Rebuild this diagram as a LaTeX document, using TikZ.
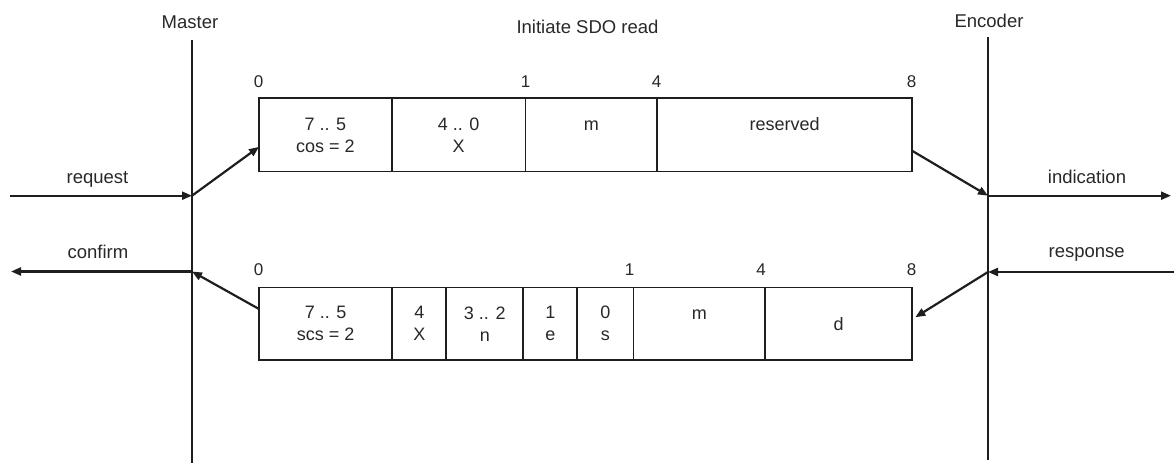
\documentclass[tikz,border=0pt]{standalone}
\usepackage{fontspec}
\setmainfont{Liberation Sans}
\usetikzlibrary{arrows.meta}
\definecolor{ink}{RGB}{30,30,30}
\definecolor{txt}{RGB}{40,40,40}
\begin{document}
\begin{tikzpicture}[x=1pt,y=-1pt,
  cell/.style={draw=ink, line width=1.8pt, rectangle, inner sep=0pt, outer sep=0pt,
    anchor=north west, align=center, text=txt, font=\fontsize{18}{22}\selectfont},
  lifeline/.style={draw=ink, line width=2.3pt},
  msg/.style={draw=ink, line width=2.2pt, -{Triangle[length=10pt,width=8pt]}},
  lbl/.style={anchor=base, text=txt, font=\fontsize{18.5}{22}\selectfont, inner sep=0pt},
  idx/.style={anchor=base, text=txt, font=\fontsize{17}{20}\selectfont, inner sep=0pt}]
\useasboundingbox (0,0) rectangle (1176,465);

% lifelines
\coordinate (mTop) at (192,40);
\coordinate (mBot) at (192,463);
\coordinate (eTop) at (988,37);
\coordinate (eBot) at (988,460);
\draw[lifeline] (mTop) -- (mBot);
\draw[lifeline] (eTop) -- (eBot);

% header texts
\node[lbl] (master) at (190,28.3) {Master};
\node[lbl] (encoder) at (989,27.5) {Encoder};
\node[lbl] (title) at (587.5,33.5) {Initiate SDO read};

% top frame
\node[cell, minimum width=132.7pt, minimum height=73.2pt] (tA) at (259,98.3) {7 .. 5\\cos = 2};
\node[cell, minimum width=133.8pt, minimum height=73.2pt] (tB) at (391.7,98.3) {4 .. 0\\X};
\node[cell, minimum width=131.5pt, minimum height=73.2pt] (tC) at (525.5,98.3) {\vphantom{0}m\\~};
\node[cell, minimum width=255.3pt, minimum height=73.2pt] (tD) at (657,98.3) {reserved\\~};

\node[idx] (t0) at (258.5,88) {0};
\node[idx] (t1) at (525.5,88) {1};
\node[idx] (t4) at (656.5,88) {4};
\node[idx] (t8) at (911.5,88) {8};

% bottom frame
\node[cell, minimum width=133.3pt, minimum height=72.5pt] (bA) at (259,287.5) {7 .. 5\\scs = 2};
\node[cell, minimum width=54pt, minimum height=72.5pt] (bB) at (392.3,287.5) {4\\X};
\node[cell, minimum width=77pt, minimum height=72.5pt] (bC) at (446.3,287.5) {3 .. 2\\n};
\node[cell, minimum width=54pt, minimum height=72.5pt] (bD) at (523.3,287.5) {1\\e};
\node[cell, minimum width=56.2pt, minimum height=72.5pt] (bE) at (577.3,287.5) {0\\s};
\node[cell, minimum width=131.5pt, minimum height=72.5pt] (bF) at (633.5,287.5) {\vphantom{0}m\\~};
\node[cell, minimum width=147.3pt, minimum height=72.5pt] (bG) at (765,287.5) {d};

\node[idx] (b0) at (258.5,275.5) {0};
\node[idx] (b1) at (629.5,275.5) {1};
\node[idx] (b4) at (761,275.5) {4};
\node[idx] (b8) at (911.5,275.5) {8};

% message points
\coordinate (mReq) at (192,195.7);
\coordinate (mConf) at (192,271.5);
\coordinate (eInd) at (988,195.7);
\coordinate (eResp) at (988,272);
\coordinate (reqL) at (10,195.7);
\coordinate (confL) at (11,271.5);
\coordinate (indR) at (1171,195.7);
\coordinate (respR) at (1174,272);

% messages
\draw[msg] (reqL) -- (mReq);
\draw[msg] (mReq) -- ([yshift=-12pt]tA.west);
\draw[msg] ([yshift=-16pt]tD.east) -- (eInd);
\draw[msg] (eInd) -- (indR);
\draw[msg] (respR) -- (eResp);
\draw[msg] (eResp) -- ([xshift=3pt,yshift=6.5pt]bG.east);
\draw[msg] ([yshift=14.75pt]bA.west) -- (mConf);
\draw[msg] (mConf) -- (confL);

\node[lbl] (request) at (97.5,183.5) {request};
\node[lbl] (indication) at (1087,184) {indication};
\node[lbl] (confirm) at (98,258.3) {confirm};
\node[lbl] (response) at (1086.7,257.5) {response};
\end{tikzpicture}
\end{document}
